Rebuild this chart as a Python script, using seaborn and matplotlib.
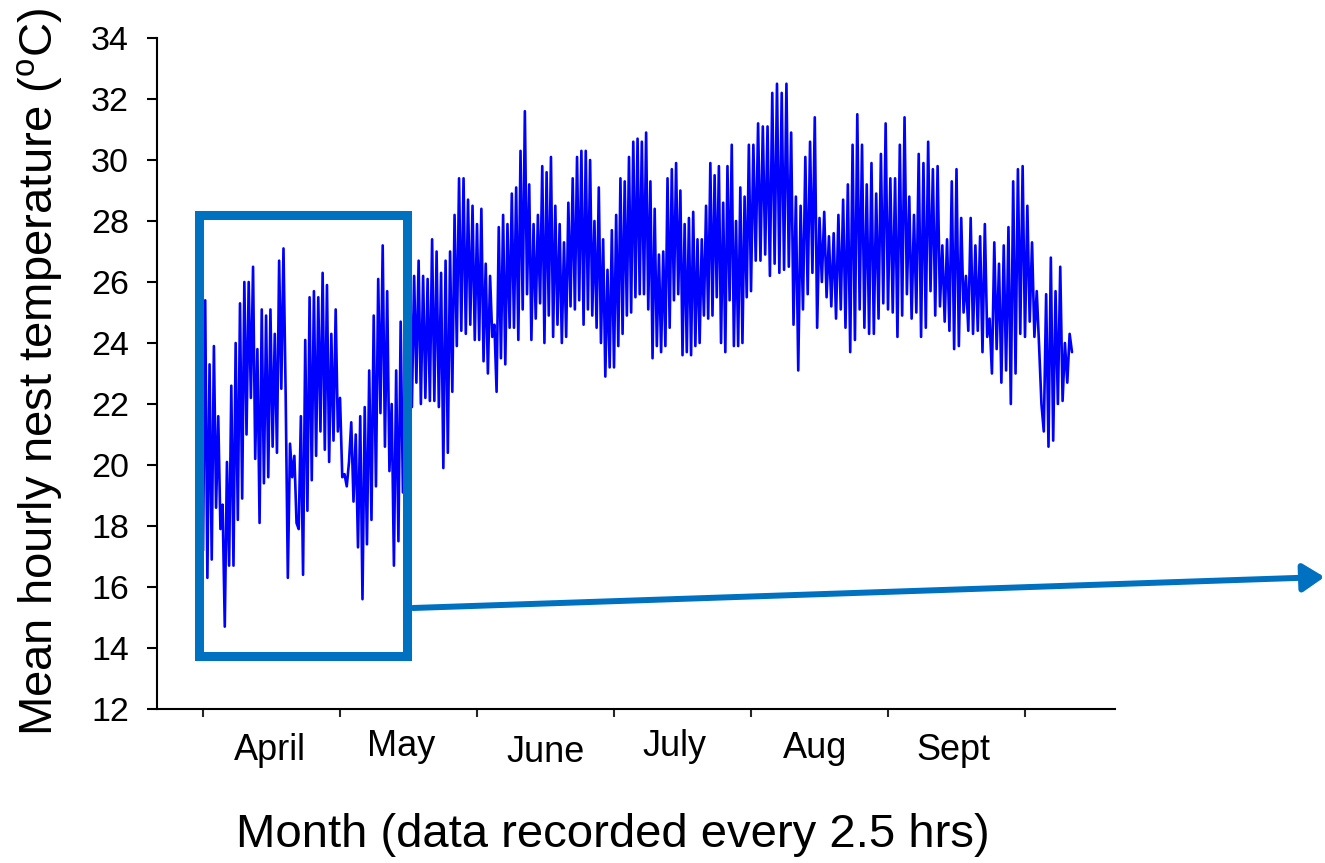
import matplotlib
matplotlib.use("Agg")
import matplotlib.pyplot as plt
from matplotlib.patches import Rectangle, FancyArrowPatch, ArrowStyle
from matplotlib.transforms import blended_transform_factory
import numpy as np
import pandas as pd
import seaborn as sns

# Nest temperature turning points (daily highs and lows, deg C), one list per month
april = [17.2, 25.4, 16.3, 23.3, 16.9, 23.9, 18.6, 21.6, 17.9, 18.7, 14.7, 20.1,
         16.7, 22.6, 16.7, 24.0, 18.2, 25.3, 18.9, 26.0, 21.0, 26.0, 22.2, 26.5,
         20.2, 23.8, 18.1, 25.1, 19.4, 24.9, 19.6, 25.1, 20.6, 24.3, 20.4, 26.7,
         22.5, 27.1, 22.3, 16.3, 20.7, 19.6, 20.3, 18.1, 17.9, 21.6, 16.4, 24.1,
         18.5, 25.5, 19.5, 25.7, 20.3, 25.5, 21.1, 26.3, 20.5, 25.9, 20.1, 24.3,
         20.8, 25.1, 21.1]
may = [22.2, 19.6, 19.7, 19.3, 20.1, 21.4, 18.8, 21.0, 17.3, 21.6, 15.6, 21.9,
       17.4, 23.1, 18.2, 24.9, 19.3, 26.1, 21.7, 27.2, 20.6, 25.7, 19.8, 22.0,
       16.7, 23.1, 17.5, 24.7, 19.1, 23.5, 21.0, 27.7, 21.9, 26.2, 22.7, 26.7,
       22.0, 26.2, 22.2, 26.1, 22.1, 27.4, 22.1, 27.0, 21.9, 26.3, 19.9, 26.7,
       20.4, 27.0, 22.4, 28.2, 23.9, 29.4, 24.4, 29.4, 24.3, 28.7, 24.6, 28.5,
       24.1]
june = [27.9, 24.1, 28.4, 23.4, 26.6, 23.0, 26.2, 24.2, 24.6, 22.4, 27.8, 23.5,
        28.2, 23.3, 27.9, 24.5, 28.9, 24.5, 29.1, 24.1, 30.3, 25.1, 31.6, 25.6,
        29.2, 24.1, 27.9, 24.8, 28.2, 25.3, 29.8, 24.0, 29.6, 24.9, 30.1, 24.2,
        28.5, 24.6, 27.9, 24.0, 27.3, 24.2, 28.6, 25.2, 29.4, 25.1, 30.1, 25.4,
        30.3, 24.6, 30.3, 25.1, 30.0, 24.9, 28.0, 24.5, 29.1, 24.0, 27.4, 22.9,
        26.4, 23.2, 27.7]
july = [23.2, 28.2, 23.9, 29.4, 24.3, 29.3, 24.9, 30.1, 25.0, 30.6, 25.5, 30.7,
        25.6, 30.6, 25.6, 30.9, 25.1, 29.3, 23.5, 28.4, 23.9, 26.9, 23.7, 27.0,
        23.9, 29.4, 24.5, 29.7, 25.4, 29.9, 25.6, 29.0, 23.6, 27.9, 23.7, 28.1,
        23.6, 28.3, 23.9, 27.4, 24.0, 27.4, 24.9, 28.5, 24.8, 29.9, 24.9, 29.5,
        25.5, 29.8, 24.0, 28.6, 23.7, 29.8, 25.4, 30.5, 23.9, 28.0, 23.9, 29.1,
        24.0, 28.8, 25.5, 30.5]
august = [25.7, 30.5, 26.7, 31.2, 26.7, 31.1, 26.9, 31.1, 26.2, 32.2, 26.6, 32.5,
          26.3, 32.2, 26.4, 32.5, 26.5, 30.9, 24.6, 28.8, 23.1, 28.5, 25.1, 30.1,
          25.6, 30.6, 26.3, 31.4, 24.5, 28.1, 26.0, 28.3, 25.5, 27.5, 25.2, 27.6,
          24.8, 28.2, 25.1, 28.7, 24.5, 29.2, 23.7, 30.5, 24.1, 31.5, 25.1, 30.5,
          24.5, 29.2, 24.3, 29.9, 24.3, 28.9, 24.8, 30.2, 25.3, 31.2]
september = [25.1, 29.4, 25.0, 29.4, 24.2, 30.5, 24.9, 31.4, 25.6, 28.8, 24.8, 28.2,
             25.0, 30.2, 24.2, 29.9, 24.5, 30.6, 25.7, 29.7, 24.9, 29.8, 25.2, 27.2,
             24.7, 27.4, 24.4, 29.3, 23.8, 29.7, 23.9, 28.1, 25.0, 26.2, 24.4, 28.1,
             24.3, 27.2, 24.4, 27.5, 23.7, 27.9, 24.2, 24.8, 23.0, 27.3, 23.8, 26.6,
             22.7, 27.2, 23.1, 27.8, 22.0, 29.3, 23.0, 29.7, 24.3, 29.8]
october = [24.2, 28.5, 24.7, 27.3, 24.2, 25.7, 23.9, 22.0, 21.1, 25.6, 20.6, 26.8,
           20.8, 25.7, 22.0, 26.5, 22.1, 24.0, 22.7, 24.3, 23.7]

month_labels = ["April", "May", "June", "July", "Aug", "Sept"]
month_series = [april, may, june, july, august, september, october]
last_span = 0.343  # recording stopped early in the final month

# Build a long table: time measured in months since the start of April
times, temps = [], []
for i, vals in enumerate(month_series):
    n = len(vals)
    if i < len(month_series) - 1:
        t = i + np.arange(n) / n
    else:
        t = i + last_span * np.arange(n) / (n - 1)
    times.extend(t)
    temps.extend(vals)
df = pd.DataFrame({"month": times, "temp": temps})

sns.set_style("white")
plt.rcParams["font.family"] = ["Liberation Sans", "DejaVu Sans"]
plt.rcParams["mathtext.fontset"] = "custom"
plt.rcParams["mathtext.rm"] = "Liberation Sans"

W, H = 1325, 863
fig = plt.figure(figsize=(W / 100, H / 100), dpi=100)
ax = fig.add_axes([157 / W, 1 - 709 / H, (1115 - 157) / W, (709 - 38) / H])

sns.lineplot(data=df, x="month", y="temp", ax=ax, color="#0000FF", linewidth=1.9,
             estimator=None, sort=False)

ax.set_xlim(-0.336, 6.657)
ax.set_ylim(12, 34)
ax.set_yticks(np.arange(12, 35, 2))
ax.set_xticks(np.arange(0, 7))
ax.set_xticklabels([])
ax.set_xlabel("")
ax.set_ylabel("")
for s in ["top", "right"]:
    ax.spines[s].set_visible(False)
for s in ["left", "bottom"]:
    ax.spines[s].set_linewidth(1.5)
    ax.spines[s].set_color("black")
ax.tick_params(axis="y", direction="out", length=7.2, width=1.5, pad=13,
               labelsize=24.5, colors="black", left=True)
ax.tick_params(axis="x", direction="out", length=6, width=1.5, bottom=True)

# Month names sit between the ticks, slightly staggered
label_dx = [-0.01, -0.05, 0.0, -0.055, -0.03, -0.02]
label_y = [750, 746, 752, 746, 748, 750]
trans = blended_transform_factory(ax.transData, fig.transFigure)
for i, name in enumerate(month_labels):
    ax.text(i + 0.5 + label_dx[i], 1 - label_y[i] / H, name, transform=trans,
            ha="center", va="center", fontsize=26, color="black", clip_on=False)

fig.text(613 / W, 1 - 835 / H, "Month (data recorded every 2.5 hrs)",
         ha="center", va="center", fontsize=34, color="black")
fig.text(40 / W, 1 - 372 / H, r"Mean hourly nest temperature ($^\mathregular{o}$C)",
         ha="center", va="center", rotation=90, fontsize=34, color="black")

# Highlight box around the April / early-May period
box_color = "#0070C0"
ax.add_patch(Rectangle((-0.029, 13.74), 1.489 + 0.029, 28.2 - 13.74,
                       fill=False, edgecolor=box_color, linewidth=6.5,
                       joinstyle="miter", clip_on=False, zorder=5))

# Arrow leading out of the box to the right edge
arrow = FancyArrowPatch((413 / W, 1 - 608 / H), (1324.5 / W, 1 - 577 / H),
                        transform=fig.transFigure,
                        arrowstyle=ArrowStyle("-|>", head_length=1.0, head_width=0.65),
                        mutation_scale=13, color=box_color, linewidth=4.3,
                        shrinkA=0, shrinkB=0, zorder=6)
fig.add_artist(arrow)

fig.savefig("out.png", dpi=100)
